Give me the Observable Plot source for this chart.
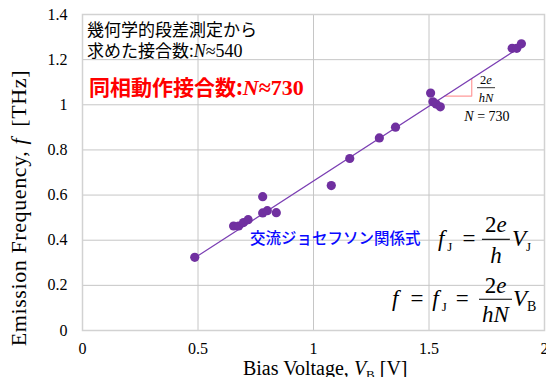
<!DOCTYPE html>
<html>
<head>
<meta charset="utf-8">
<script src="https://cdn.jsdelivr.net/npm/d3@7"></script>
<script src="https://cdn.jsdelivr.net/npm/@observablehq/plot@0.6"></script>
<style>
  html, body { margin: 0; padding: 0; background: #fff; }
  #chart svg { display: block; }
</style>
</head>
<body>
<div id="chart"></div>
<script>
// Measured devices: bias voltage V_B [V] and emission frequency f [THz]
const biasVoltage = [0.486, 0.654, 0.676, 0.697, 0.717, 0.780, 0.780, 0.800, 0.839, 1.077,
                     1.157, 1.285, 1.355, 1.507, 1.517, 1.531, 1.549, 1.860, 1.880, 1.900];
const frequency   = [0.324, 0.463, 0.463, 0.478, 0.491, 0.593, 0.521, 0.531, 0.522, 0.642,
                     0.762, 0.853, 0.901, 1.052, 1.013, 1.003, 0.991, 1.250, 1.250, 1.270];

const xTicks = [0, 0.5, 1, 1.5, 2];
const yTicks = [0, 0.2, 0.4, 0.6, 0.8, 1, 1.2, 1.4];

// AC Josephson relation f = (2e/h) V_B / N with N junctions in synchronous operation
const twoEOverH = 483.5978;      // 2e/h in THz per volt
const junctions = 730;
const slope = twoEOverH / junctions;
const fitSpan = [0.486, 1.91];   // voltage range covered by the relation line
const triangleSpan = [1.568, 1.685];

const SERIF = "'Liberation Serif', 'Times New Roman', serif";
const CJK = "'Noto Sans CJK JP', sans-serif";
const PURPLE = "#7030a0";

const points = biasVoltage.map((v, i) => ({v, f: frequency[i]}));
const fitLine = fitSpan.map(v => ({v, f: slope * v}));
const triangle = [
  {v: triangleSpan[0], f: slope * triangleSpan[0]},
  {v: triangleSpan[1], f: slope * triangleSpan[0]},
  {v: triangleSpan[1], f: slope * triangleSpan[1]}
];

const plot = Plot.plot({
  width: 546,
  height: 377,
  marginLeft: 82,
  marginRight: 2,
  marginTop: 14,
  marginBottom: 47,
  style: {fontFamily: SERIF, fontSize: "16px", color: "#000", background: "#fff"},
  x: {domain: [0, 2]},
  y: {domain: [0, 1.4]},
  marks: [
    Plot.gridX(xTicks, {stroke: "#c6c6c6", strokeOpacity: 1}),
    Plot.gridY(yTicks, {stroke: "#c6c6c6", strokeOpacity: 1}),
    Plot.frame({stroke: "#d2d2d2", strokeWidth: 1.5}),
    Plot.axisX(xTicks, {tickSize: 0, tickPadding: 12, fontSize: 16, fontFamily: SERIF,
                        tickFormat: d => `${d}`, label: null}),
    Plot.axisY(yTicks, {tickSize: 0, tickPadding: 15, fontSize: 16, fontFamily: SERIF,
                        tickFormat: d => `${d}`, label: null}),
    Plot.line(triangle, {x: "v", y: "f", stroke: "#ff9a9a", strokeWidth: 1.2}),
    Plot.line(fitLine, {x: "v", y: "f", stroke: "#7b3fb3", strokeWidth: 1.2}),
    Plot.dot(points, {x: "v", y: "f", r: 4.6, fill: PURPLE, stroke: null})
  ]
});

document.getElementById("chart").append(plot);

// ---- rich-text annotations (mixed CJK / italic serif), placed in data space ----
const sx = plot.scale("x"), sy = plot.scale("y");
const X = v => sx.apply(v), Y = f => sy.apply(f);
const layer = d3.select(plot).append("g").attr("class", "annotations");

function rich(parent, x, y, runs, opts = {}) {
  const t = parent.append("text")
    .attr("x", x).attr("y", y)
    .attr("text-anchor", opts.anchor || "start")
    .attr("font-size", opts.size || 16)
    .attr("fill", opts.fill || "#000")
    .attr("font-weight", opts.weight || "normal");
  if (opts.transform) t.attr("transform", opts.transform);
  if (opts.spacing) t.attr("letter-spacing", opts.spacing);
  let shift = 0;
  for (const r of runs) {
    const s = t.append("tspan").text(r.text).attr("font-family", r.cjk ? CJK : SERIF);
    if (r.italic) s.attr("font-style", "italic");
    if (r.size) s.attr("font-size", r.size);
    if (r.dx) s.attr("dx", r.dx);
    const want = r.sub || 0;
    if (want !== shift) { s.attr("dy", want - shift); shift = want; }
  }
  return t;
}

// N-from-step-height note
rich(layer, X(0.0216), Y(1.3034), [{text: "幾何学的段差測定から", cjk: true}], {size: 17});
rich(layer, X(0.0216), Y(1.2086), [
  {text: "求めた接合数:", cjk: true},
  {text: "N", italic: true, size: 18},
  {text: "≈540", size: 18}
], {size: 17});

// N from synchronous operation
rich(layer, X(0.0303), Y(1.0398), [
  {text: "同相動作接合数:", cjk: true},
  {text: "N", italic: true, size: 22},
  {text: "≈730", size: 22}
], {size: 21, fill: "#ff0000", weight: "bold"});

// AC Josephson relation caption
rich(layer, X(0.7273), Y(0.3801), [{text: "交流ジョセフソン関係式", cjk: true}],
     {size: 15.5, fill: "#0a0aff", weight: 500});

// Fraction-style equations: bar centred at (cv, cf); left part starts leftStart px from it
function equation(cv, cf, o) {
  const px = X(cv), py = Y(cf), fs = o.size;
  layer.append("line")
    .attr("x1", px - o.barW / 2).attr("x2", px + o.barW / 2)
    .attr("y1", py).attr("y2", py)
    .attr("stroke", "#000").attr("stroke-width", o.barStroke || 1.1);
  rich(layer, px, py - o.numGap, o.num, {anchor: "middle", size: fs});
  rich(layer, px, py + o.denGap, o.den, {anchor: "middle", size: fs});
  const base = py + o.baseGap;
  if (o.left) rich(layer, px + o.leftStart, base, o.left, {size: fs});
  if (o.right) rich(layer, px + o.barW / 2 + o.gapR, base, o.right, {size: fs});
}

equation(1.792, 0.4018, {
  size: 23, barW: 28, numGap: 7.5, denGap: 24, baseGap: 7, leftStart: -58, gapR: 2,
  left: [{text: "f", italic: true}, {text: "J", size: 13, sub: 5, dx: 3}, {text: "=", dx: 10}],
  num: [{text: "2"}, {text: "e", italic: true}],
  den: [{text: "h", italic: true}],
  right: [{text: "V", italic: true}, {text: "J", size: 13, sub: 5}]
});

equation(1.790, 0.136, {
  size: 23, barW: 33, numGap: 6.5, denGap: 23, baseGap: 7, leftStart: -103.5, gapR: 1,
  left: [{text: "f", italic: true}, {text: "=", dx: 12}, {text: "f", italic: true, dx: 9},
         {text: "J", size: 13, sub: 5, dx: 3}, {text: "=", dx: 9}],
  num: [{text: "2"}, {text: "e", italic: true}],
  den: [{text: "hN", italic: true}],
  right: [{text: "V", italic: true}, {text: "B", size: 14, sub: 5}]
});

// slope label next to the triangle
equation(1.749, 1.0735, {
  size: 12.5, barW: 18, numGap: 3.7, denGap: 14, baseGap: 0, leftStart: 0, gapR: 0, barStroke: 0.8,
  num: [{text: "2"}, {text: "e", italic: true}],
  den: [{text: "hN", italic: true}]
});
rich(layer, X(1.753), Y(0.9238), [
  {text: "N", italic: true}, {text: " = " + junctions}
], {anchor: "middle", size: 14});

// Axis titles
rich(layer, X(1.053), 375, [
  {text: "Bias Voltage, "},
  {text: "V", italic: true},
  {text: "B", size: 13, sub: 4},
  {text: " [V]", sub: 0}
], {anchor: "middle", size: 20});

rich(layer, 0, 0, [
  {text: "Emission Frequency, "},
  {text: "f", italic: true},
  {text: " [THz]", dx: 5}
], {anchor: "middle", size: 22, spacing: 0.6, transform: `translate(26,${Y(0.54)}) rotate(-90)`});
</script>
</body>
</html>
